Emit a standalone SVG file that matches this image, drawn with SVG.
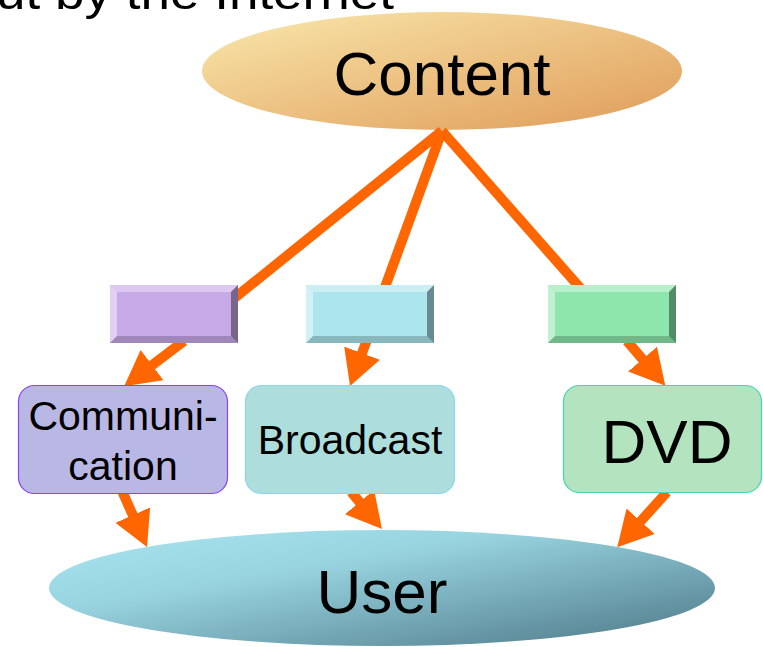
<svg xmlns="http://www.w3.org/2000/svg" xmlns:xlink="http://www.w3.org/1999/xlink" width="763" height="647" viewBox="0 0 763 647">
  <style>
    text { font-family: "Liberation Sans", Arial, sans-serif; fill: #000; text-anchor: middle; }
    .big { font-size: 62px; }
    .mid { font-size: 41px; }
    .conn { stroke: #FF6600; stroke-width: 10; fill: none; }
    .arrow { stroke: #FF6600; stroke-width: 10; fill: none; marker-end: url(#head); }
  </style>
  <defs>
    <linearGradient id="gContent" x1="0" y1="0" x2="1" y2="1">
      <stop offset="0" stop-color="#F9E8AC"/>
      <stop offset="1" stop-color="#DF9B58"/>
    </linearGradient>
    <linearGradient id="gUser" x1="0" y1="0" x2="1" y2="1">
      <stop offset="0" stop-color="#AAE6F0"/>
      <stop offset="0.35" stop-color="#98D4E0"/>
      <stop offset="1" stop-color="#4C7686"/>
    </linearGradient>
    <marker id="head" markerUnits="userSpaceOnUse" markerWidth="35" markerHeight="38" viewBox="0 0 35 38" refX="1" refY="19" orient="auto">
      <path d="M0,0 L35,19 L0,38 z" fill="#FF6600"/>
    </marker>
    <g id="bevel">
      <polygon points="0,0 128,0 121,7 7,7" fill="#FFFFFF" fill-opacity="0.36"/>
      <polygon points="0,0 7,7 7,51 0,58" fill="#FFFFFF" fill-opacity="0.45"/>
      <polygon points="128,0 128,58 121,51 121,7" fill="#000000" fill-opacity="0.4"/>
      <polygon points="0,58 7,51 121,51 128,58" fill="#000000" fill-opacity="0.2"/>
    </g>
  </defs>

  <text x="-4" y="9" style="font-size:46px; text-anchor:start" textLength="398" lengthAdjust="spacingAndGlyphs">ut by the Internet</text>

  <g id="content">
    <ellipse cx="442" cy="71" rx="240" ry="59" fill="url(#gContent)"/>
    <text class="big" x="442" y="95">Content</text>
  </g>

  <g id="connectors">
    <line class="conn" x1="442" y1="131" x2="232" y2="300"/>
    <line class="conn" x1="442" y1="131" x2="384" y2="290"/>
    <line class="conn" x1="442" y1="131" x2="582" y2="290"/>
    <line class="arrow" x1="184" y1="341" x2="151.3" y2="365.7"/>
    <line class="arrow" x1="366.5" y1="341" x2="361.7" y2="354.1"/>
    <line class="arrow" x1="627" y1="341" x2="643.2" y2="359.9"/>
    <line class="arrow" x1="122.5" y1="492" x2="133.2" y2="516"/>
    <line class="arrow" x1="351.2" y1="492" x2="360.2" y2="502.8"/>
    <line class="arrow" x1="667" y1="492" x2="640" y2="522"/>
  </g>

  <g id="box-purple">
    <rect x="110" y="285" width="128" height="58" fill="#C8A9E8"/>
    <use xlink:href="#bevel" x="110" y="285"/>
  </g>
  <g id="box-cyan">
    <rect x="306" y="285" width="128" height="58" fill="#ACE5EE"/>
    <use xlink:href="#bevel" x="306" y="285"/>
  </g>
  <g id="box-green">
    <rect x="548" y="285" width="128" height="58" fill="#8EE6AC"/>
    <use xlink:href="#bevel" x="548" y="285"/>
  </g>

  <g id="communication">
    <rect x="18.5" y="385.5" width="209" height="108" rx="16" fill="#B9B8E4" stroke="#8A44EE" stroke-width="1.2"/>
    <text class="mid" x="123" y="430">Communi-</text>
    <text class="mid" x="123" y="480">cation</text>
  </g>
  <g id="broadcast">
    <rect x="245.5" y="385.5" width="209" height="108" rx="16" fill="#ADDEDC" stroke="#8CD2F2" stroke-width="1.2"/>
    <text class="mid" x="350" y="454">Broadcast</text>
  </g>
  <g id="dvd">
    <rect x="563.5" y="385.5" width="198" height="107" rx="16" fill="#B4E3BF" stroke="#44D8B0" stroke-width="1.2"/>
    <text class="big" x="667" y="463">DVD</text>
  </g>

  <g id="user">
    <ellipse cx="382" cy="588" rx="333" ry="58" fill="url(#gUser)"/>
    <text class="big" x="382" y="613">User</text>
  </g>
</svg>
